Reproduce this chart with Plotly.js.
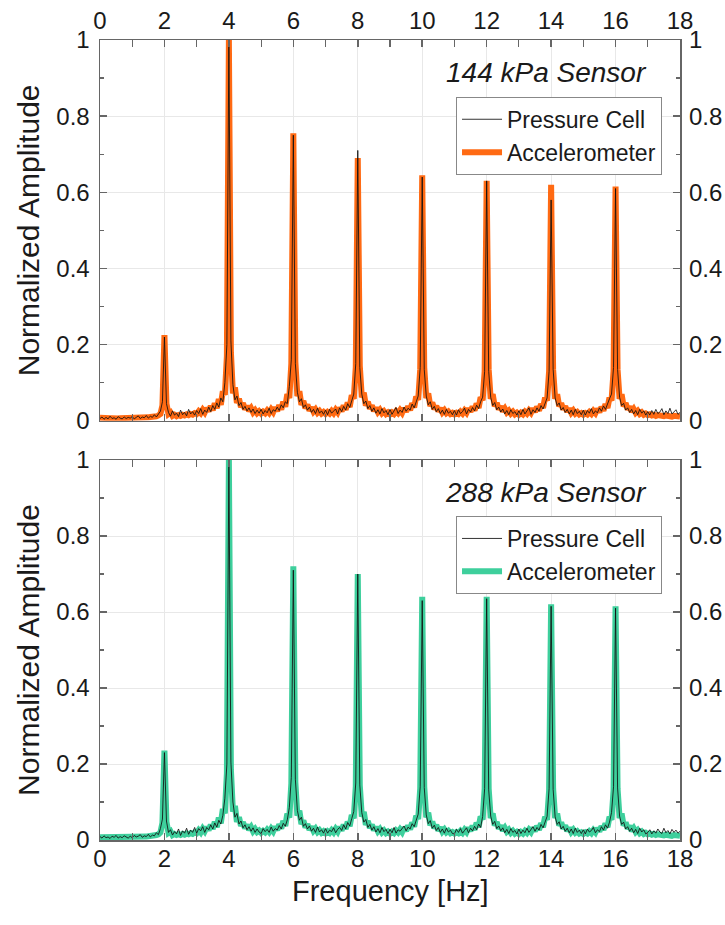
<!DOCTYPE html>
<html>
<head>
<meta charset="utf-8">
<script src="https://cdn.plot.ly/plotly-3.0.1.min.js"></script>
<style>html,body{margin:0;padding:0;background:#fff;}#chart{width:725px;height:925px;}</style>
</head>
<body>
<div id="chart"></div>
<script>
// Frequency grid: samples every 1/16 Hz from 0 to 18 Hz (289 samples)
const freqStart = 0;
const freqStep = 0.0625;

const xTickVals = [0, 2, 4, 6, 8, 10, 12, 14, 16, 18];
const yTickVals = [0, 0.2, 0.4, 0.6, 0.8, 1];
const panelLabels = ["144 kPa Sensor", "288 kPa Sensor"];
const seriesNames = ["Pressure Cell", "Accelerometer"];
const xTitle = "Frequency [Hz]";
const yTitle = "Normalized Amplitude";

// 144 kPa - Accelerometer
const accel144 = [
0.008,0.007,0.008,0.007,0.006,0.007,0.007,0.006,0.007,0.006,0.007,0.007,0.006,0.007,0.007,0.008,
0.007,0.008,0.007,0.008,0.008,0.009,0.008,0.009,0.009,0.01,0.01,0.011,0.012,0.014,0.018,0.04,
0.225,
0.045,0.018,0.022,0.013,0.016,0.012,0.015,0.013,0.016,0.014,0.017,0.015,0.018,0.016,0.02,
0.018,0.025,0.02,0.029,0.022,0.033,0.025,0.039,0.028,0.046,0.033,0.057,0.042,0.078,0.068,0.17,
1.0,
0.18,0.072,0.088,0.047,0.058,0.036,0.046,0.03,0.039,0.026,0.033,0.022,0.028,0.02,0.025,
0.019,0.024,0.02,0.027,0.021,0.03,0.023,0.035,0.026,0.041,0.03,0.05,0.037,0.07,0.06,0.15,
0.755,
0.155,0.065,0.078,0.042,0.052,0.033,0.042,0.027,0.035,0.024,0.03,0.021,0.026,0.019,0.023,
0.018,0.023,0.019,0.026,0.02,0.029,0.022,0.034,0.025,0.04,0.029,0.048,0.036,0.067,0.058,0.14,
0.69,
0.145,0.062,0.074,0.04,0.05,0.032,0.04,0.026,0.034,0.023,0.029,0.02,0.025,0.018,0.022,
0.017,0.022,0.018,0.025,0.02,0.028,0.021,0.033,0.024,0.038,0.028,0.046,0.035,0.064,0.055,0.135,
0.645,
0.14,0.06,0.072,0.039,0.048,0.031,0.039,0.025,0.033,0.022,0.028,0.02,0.024,0.018,0.021,
0.017,0.021,0.018,0.024,0.019,0.027,0.021,0.032,0.024,0.037,0.027,0.045,0.034,0.062,0.054,0.13,
0.63,
0.135,0.058,0.07,0.038,0.047,0.03,0.038,0.025,0.032,0.022,0.027,0.019,0.024,0.017,0.021,
0.016,0.021,0.017,0.024,0.019,0.027,0.021,0.032,0.023,0.037,0.027,0.044,0.034,0.061,0.053,0.13,
0.62,
0.135,0.058,0.07,0.038,0.046,0.03,0.038,0.024,0.032,0.021,0.027,0.019,0.023,0.017,0.02,
0.016,0.02,0.017,0.023,0.018,0.026,0.02,0.031,0.023,0.036,0.027,0.044,0.034,0.061,0.053,0.13,
0.615,
0.135,0.058,0.07,0.038,0.046,0.03,0.037,0.024,0.031,0.021,0.026,0.018,0.022,0.016,0.019,
0.015,0.017,0.014,0.016,0.013,0.015,0.013,0.014,0.012,0.014,0.012,0.013,0.011,0.013,0.011,0.012,0.011
];

// 144 kPa - Pressure Cell
const press144 = [
0.006,0.01,0.004,0.009,0.005,0.012,0.006,0.008,0.004,0.011,0.007,0.005,0.01,0.006,0.009,0.007,
0.011,0.005,0.009,0.013,0.006,0.01,0.008,0.014,0.007,0.012,0.009,0.016,0.01,0.018,0.025,0.05,
0.22,
0.045,0.022,0.012,0.026,0.015,0.02,0.011,0.028,0.016,0.022,0.013,0.03,0.018,0.024,0.015,
0.027,0.019,0.032,0.017,0.028,0.022,0.036,0.024,0.04,0.03,0.047,0.036,0.06,0.05,0.1,0.2,
1.0,
0.21,0.095,0.055,0.065,0.04,0.048,0.03,0.038,0.026,0.034,0.022,0.031,0.019,0.028,0.02,
0.03,0.018,0.027,0.021,0.033,0.019,0.029,0.025,0.036,0.027,0.042,0.034,0.05,0.045,0.09,0.16,
0.75,
0.15,0.075,0.05,0.058,0.035,0.042,0.028,0.036,0.022,0.03,0.019,0.033,0.02,0.026,0.017,
0.028,0.016,0.03,0.02,0.025,0.031,0.018,0.034,0.024,0.038,0.028,0.045,0.035,0.055,0.07,0.15,
0.71,
0.14,0.07,0.045,0.052,0.032,0.04,0.025,0.034,0.02,0.029,0.018,0.032,0.021,0.027,0.016,
0.03,0.017,0.026,0.035,0.019,0.028,0.022,0.036,0.025,0.033,0.028,0.044,0.034,0.052,0.065,0.14,
0.64,
0.135,0.065,0.042,0.05,0.03,0.038,0.024,0.032,0.019,0.028,0.017,0.03,0.02,0.025,0.016,
0.027,0.015,0.029,0.019,0.024,0.033,0.018,0.03,0.023,0.035,0.026,0.041,0.032,0.05,0.062,0.13,
0.63,
0.13,0.062,0.04,0.048,0.029,0.036,0.023,0.031,0.018,0.027,0.016,0.029,0.019,0.024,0.015,
0.026,0.016,0.03,0.018,0.025,0.034,0.017,0.029,0.022,0.034,0.025,0.04,0.031,0.048,0.06,0.13,
0.58,
0.135,0.06,0.04,0.047,0.028,0.035,0.022,0.03,0.018,0.028,0.016,0.03,0.019,0.025,0.016,
0.028,0.015,0.027,0.02,0.032,0.018,0.026,0.021,0.034,0.025,0.039,0.03,0.046,0.058,0.07,0.14,
0.61,
0.135,0.062,0.04,0.046,0.028,0.034,0.022,0.03,0.018,0.027,0.016,0.03,0.02,0.026,0.015,
0.024,0.015,0.027,0.017,0.03,0.019,0.023,0.032,0.016,0.026,0.019,0.033,0.018,0.024,0.029,0.017,0.022
];

// 288 kPa - Accelerometer
const accel288 = [
0.007,0.007,0.006,0.007,0.007,0.006,0.006,0.007,0.006,0.006,0.007,0.006,0.006,0.007,0.007,0.007,
0.007,0.007,0.008,0.008,0.008,0.008,0.009,0.009,0.01,0.01,0.011,0.012,0.013,0.015,0.02,0.045,
0.235,
0.048,0.019,0.023,0.013,0.016,0.013,0.015,0.013,0.016,0.014,0.017,0.015,0.018,0.016,0.02,
0.018,0.026,0.02,0.03,0.023,0.034,0.026,0.04,0.029,0.048,0.034,0.059,0.044,0.082,0.07,0.175,
1.0,
0.185,0.075,0.09,0.048,0.06,0.037,0.047,0.031,0.04,0.027,0.034,0.023,0.029,0.021,0.025,
0.019,0.024,0.02,0.027,0.021,0.03,0.023,0.035,0.026,0.041,0.03,0.05,0.037,0.069,0.059,0.148,
0.72,
0.152,0.064,0.077,0.042,0.051,0.033,0.041,0.027,0.035,0.024,0.03,0.021,0.026,0.019,0.023,
0.018,0.023,0.019,0.026,0.02,0.029,0.022,0.034,0.025,0.04,0.029,0.048,0.036,0.066,0.057,0.14,
0.70,
0.144,0.062,0.074,0.04,0.05,0.032,0.04,0.026,0.034,0.023,0.029,0.02,0.025,0.018,0.022,
0.017,0.022,0.018,0.025,0.02,0.028,0.021,0.033,0.024,0.038,0.028,0.046,0.035,0.064,0.055,0.135,
0.64,
0.14,0.06,0.072,0.039,0.048,0.031,0.039,0.025,0.033,0.022,0.028,0.02,0.024,0.018,0.021,
0.017,0.021,0.018,0.024,0.019,0.027,0.021,0.032,0.024,0.037,0.027,0.045,0.034,0.062,0.054,0.135,
0.64,
0.135,0.058,0.07,0.038,0.047,0.03,0.038,0.025,0.032,0.022,0.027,0.019,0.024,0.017,0.021,
0.016,0.021,0.017,0.024,0.019,0.027,0.021,0.032,0.023,0.037,0.027,0.044,0.034,0.061,0.053,0.13,
0.62,
0.135,0.058,0.07,0.038,0.046,0.03,0.038,0.024,0.032,0.021,0.027,0.019,0.023,0.017,0.02,
0.016,0.02,0.017,0.023,0.018,0.026,0.02,0.031,0.023,0.036,0.027,0.044,0.034,0.061,0.053,0.13,
0.615,
0.135,0.058,0.07,0.038,0.046,0.03,0.037,0.024,0.031,0.021,0.026,0.018,0.022,0.016,0.019,
0.015,0.017,0.014,0.016,0.013,0.015,0.013,0.014,0.012,0.014,0.012,0.013,0.011,0.013,0.011,0.012,0.011
];

// 288 kPa - Pressure Cell
const press288 = [
0.009,0.005,0.011,0.006,0.008,0.004,0.01,0.007,0.012,0.005,0.009,0.006,0.011,0.007,0.005,0.01,
0.006,0.012,0.008,0.01,0.014,0.007,0.011,0.009,0.015,0.008,0.013,0.011,0.019,0.014,0.03,0.055,
0.23,
0.05,0.02,0.027,0.013,0.022,0.016,0.029,0.012,0.024,0.018,0.031,0.015,0.026,0.02,0.033,
0.018,0.03,0.024,0.035,0.02,0.033,0.027,0.04,0.029,0.045,0.034,0.052,0.042,0.065,0.11,0.2,
1.0,
0.205,0.1,0.06,0.07,0.042,0.05,0.032,0.04,0.027,0.035,0.023,0.032,0.02,0.029,0.021,
0.017,0.03,0.022,0.028,0.02,0.034,0.023,0.03,0.026,0.038,0.029,0.044,0.036,0.053,0.085,0.165,
0.71,
0.16,0.078,0.052,0.06,0.036,0.043,0.029,0.037,0.023,0.031,0.02,0.034,0.021,0.027,0.018,
0.03,0.018,0.026,0.022,0.032,0.019,0.028,0.033,0.025,0.04,0.029,0.046,0.037,0.056,0.075,0.15,
0.70,
0.145,0.072,0.047,0.054,0.033,0.041,0.026,0.035,0.021,0.03,0.019,0.033,0.022,0.028,0.017,
0.028,0.019,0.033,0.018,0.027,0.023,0.03,0.037,0.024,0.034,0.029,0.043,0.035,0.053,0.068,0.14,
0.63,
0.138,0.066,0.043,0.051,0.031,0.039,0.025,0.033,0.02,0.029,0.018,0.031,0.021,0.026,0.017,
0.016,0.028,0.02,0.03,0.018,0.025,0.032,0.019,0.031,0.024,0.036,0.027,0.042,0.033,0.062,0.135,
0.635,
0.132,0.063,0.041,0.049,0.03,0.037,0.024,0.032,0.019,0.028,0.017,0.03,0.02,0.025,0.016,
0.029,0.017,0.026,0.019,0.031,0.02,0.027,0.035,0.023,0.033,0.026,0.041,0.032,0.049,0.062,0.135,
0.615,
0.133,0.061,0.041,0.048,0.029,0.036,0.023,0.031,0.019,0.029,0.017,0.031,0.02,0.026,0.017,
0.027,0.016,0.029,0.021,0.025,0.033,0.019,0.027,0.022,0.035,0.026,0.04,0.031,0.047,0.072,0.14,
0.61,
0.137,0.063,0.041,0.047,0.029,0.035,0.023,0.031,0.019,0.028,0.017,0.031,0.021,0.027,0.016,
0.02,0.027,0.016,0.024,0.018,0.029,0.021,0.017,0.031,0.019,0.025,0.016,0.028,0.02,0.026,0.018,0.023
];

const ORANGE = '#ff6a13';
const GREEN = '#3ecf9c';
const FONT = 'Liberation Sans, Arial, Helvetica, sans-serif';
const TXT = '#1a1a1a';

const traces = [
  {x0: freqStart, dx: freqStep, y: accel144, type: 'scatter', mode: 'lines', name: seriesNames[1],
   line: {color: ORANGE, width: 6}, xaxis: 'x', yaxis: 'y', legend: 'legend', legendrank: 2},
  {x0: freqStart, dx: freqStep, y: press144, type: 'scatter', mode: 'lines', name: seriesNames[0],
   line: {color: '#111111', width: 1}, opacity: 0.85, xaxis: 'x', yaxis: 'y', legend: 'legend', legendrank: 1},
  {x0: freqStart, dx: freqStep, y: accel288, type: 'scatter', mode: 'lines', name: seriesNames[1],
   line: {color: GREEN, width: 6}, xaxis: 'x2', yaxis: 'y2', legend: 'legend2', legendrank: 2},
  {x0: freqStart, dx: freqStep, y: press288, type: 'scatter', mode: 'lines', name: seriesNames[0],
   line: {color: '#111111', width: 1}, opacity: 0.85, xaxis: 'x2', yaxis: 'y2', legend: 'legend2', legendrank: 1}
];

const frameColor = '#666666';
const gridColor = '#e8e8e8';
const tickFont = {family: FONT, size: 24, color: TXT};

function xAxis(anchor, side, standoff) {
  return {
    anchor: anchor, side: side, range: [0, 18], tickvals: xTickVals,
    ticks: 'inside', ticklen: 7, tickwidth: 1.5, tickcolor: frameColor,
    minor: {dtick: 1, ticks: 'inside', ticklen: 4, tickwidth: 1.2, tickcolor: frameColor, showgrid: false},
    showline: true, linecolor: frameColor, linewidth: 1.5, mirror: 'allticks',
    showgrid: true, gridcolor: gridColor, gridwidth: 1, zeroline: false,
    tickfont: tickFont, ticklabelstandoff: standoff
  };
}
function yAxis(domain, anchor) {
  return {
    domain: domain, anchor: anchor, range: [0, 1], tickvals: yTickVals,
    ticks: 'inside', ticklen: 7, tickwidth: 1.5, tickcolor: frameColor,
    minor: {dtick: 0.1, ticks: 'inside', ticklen: 4, tickwidth: 1.2, tickcolor: frameColor, showgrid: false},
    showline: true, linecolor: frameColor, linewidth: 1.5, mirror: 'allticks',
    showgrid: true, gridcolor: gridColor, gridwidth: 1, zeroline: false,
    tickfont: tickFont, ticklabelstandoff: 4,
    title: {text: yTitle, font: {family: FONT, size: 30, color: TXT}, standoff: 8}
  };
}
function yRight(overlay, anchor) {
  return {
    overlaying: overlay, anchor: anchor, side: 'right', range: [0, 1], tickvals: yTickVals,
    ticks: '', showline: false, showgrid: false, zeroline: false,
    tickfont: tickFont, ticklabelstandoff: 8
  };
}
function legendBox(y) {
  return {
    x: 0.969, xanchor: 'right', y: y, yanchor: 'top',
    bgcolor: 'rgba(255,255,255,1)', bordercolor: '#888888', borderwidth: 1,
    font: {family: FONT, size: 23, color: TXT}, tracegroupgap: 0, itemwidth: 40
  };
}

const layout = {
  width: 725, height: 925,
  margin: {l: 100, r: 45, t: 40, b: 85},
  paper_bgcolor: '#ffffff', plot_bgcolor: '#ffffff',
  font: {family: FONT, color: TXT},
  showlegend: true,
  xaxis: xAxis('y', 'top', 0),
  yaxis: yAxis([0.524, 1], 'x'),
  xaxis2: xAxis('y2', 'bottom', -3),
  yaxis2: yAxis([0, 0.475], 'x2'),
  yaxis3: yRight('y', 'x'),
  yaxis4: yRight('y2', 'x2'),
  legend: legendBox(0.929),
  legend2: legendBox(0.405),
  annotations: [
    {xref: 'paper', yref: 'paper', x: 0.769, y: 0.96, xanchor: 'center', yanchor: 'middle',
     text: '<i>' + panelLabels[0] + '</i>', showarrow: false, font: {family: FONT, size: 28, color: TXT}},
    {xref: 'paper', yref: 'paper', x: 0.769, y: 0.434, xanchor: 'center', yanchor: 'middle',
     text: '<i>' + panelLabels[1] + '</i>', showarrow: false, font: {family: FONT, size: 28, color: TXT}},
    {xref: 'paper', yref: 'paper', x: 0.5, y: -0.041, xanchor: 'center', yanchor: 'top',
     text: xTitle, showarrow: false, font: {family: FONT, size: 29, color: TXT}}
  ]
};

// right-side axes need a trace to show; attach invisible traces
traces.push({x: [0], y: [0], xaxis: 'x', yaxis: 'y3', mode: 'markers', marker: {opacity: 0}, showlegend: false, hoverinfo: 'skip'});
traces.push({x: [0], y: [0], xaxis: 'x2', yaxis: 'y4', mode: 'markers', marker: {opacity: 0}, showlegend: false, hoverinfo: 'skip'});

Plotly.newPlot('chart', traces, layout, {staticPlot: true, displayModeBar: false});
</script>
</body>
</html>
